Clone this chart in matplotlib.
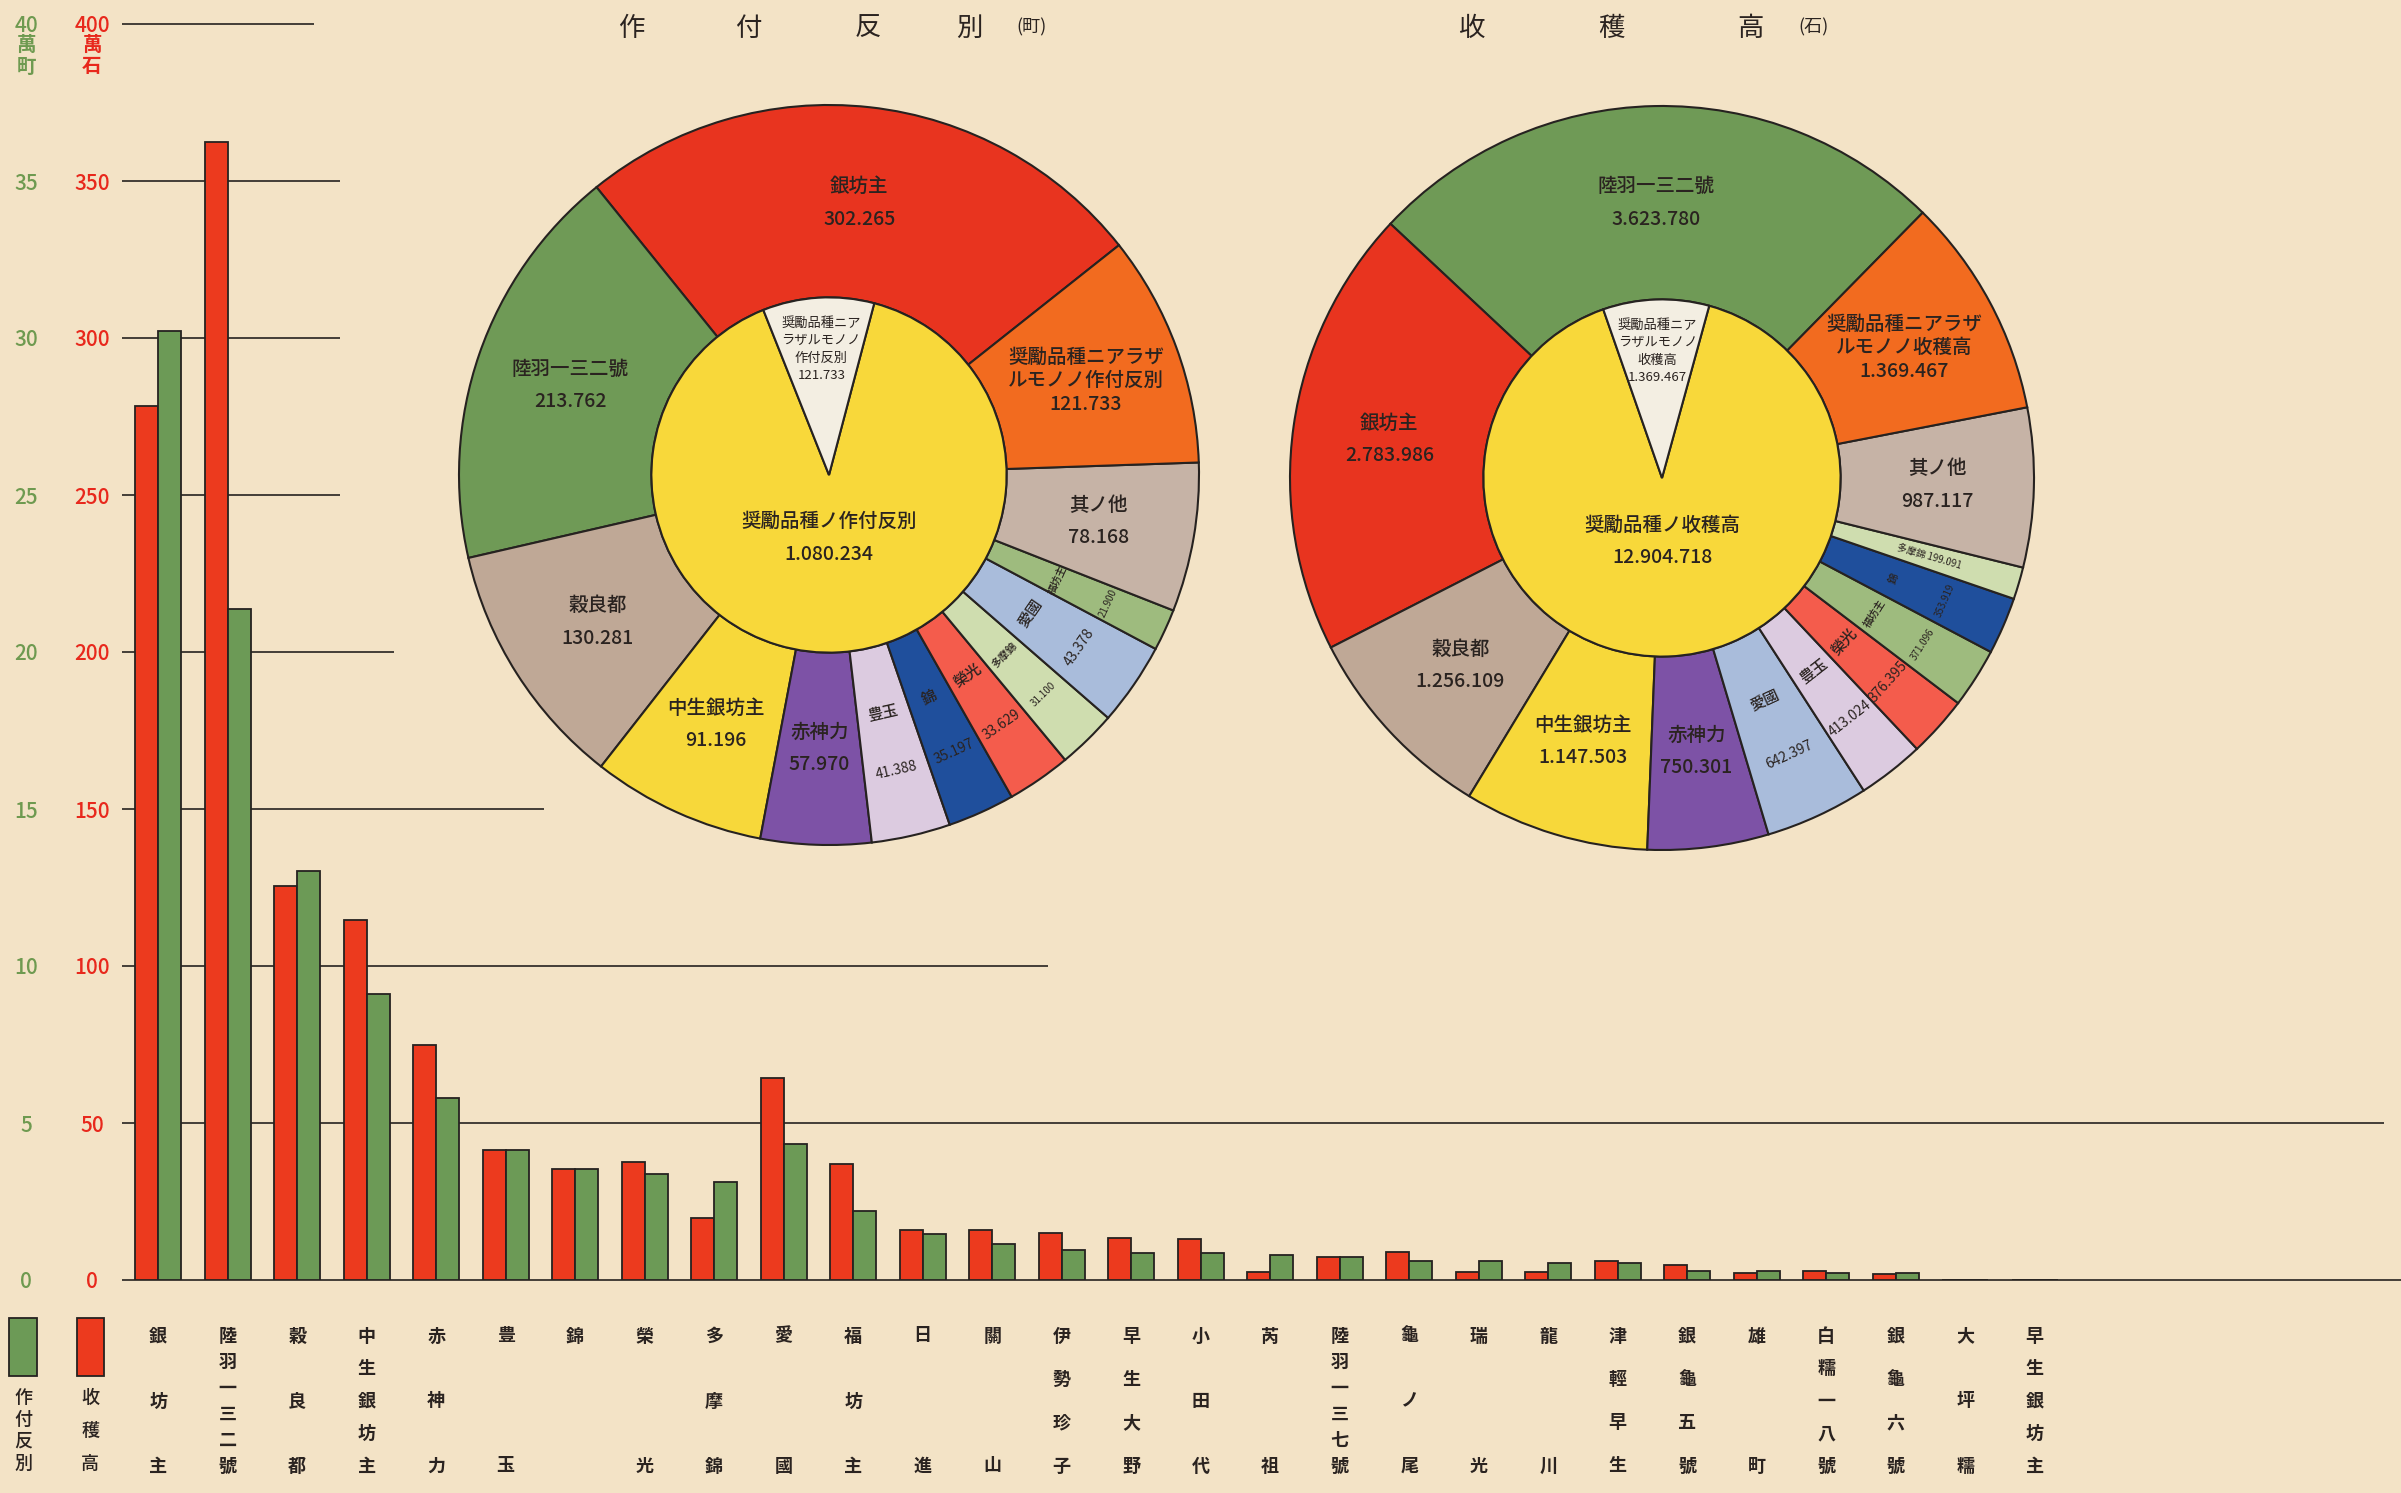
import matplotlib
matplotlib.use('Agg')
import matplotlib.pyplot as plt
import matplotlib.transforms as mtrans
from matplotlib.patches import Rectangle
import numpy as np

plt.rcParams['font.family'] = ['Noto Sans CJK JP', 'DejaVu Sans']

# ---------------- data ----------------
categories = ['銀坊主', '陸羽一三二號', '穀良都', '中生銀坊主', '赤神力', '豊玉', '錦', '榮光',
              '多摩錦', '愛國', '福坊主', '日進', '關山', '伊勢珍子', '早生大野', '小田代', '芮祖',
              '陸羽一三七號', '龜ノ尾', '瑞光', '龍川', '津輕早生', '銀龜五號', '雄町', '白糯一八號',
              '銀龜六號', '大坪糯', '早生銀坊主']
# 收穫高 (萬石)
harvest = [278.4, 362.4, 125.6, 114.8, 75.0, 41.3, 35.4, 37.6, 19.9, 64.2, 37.1,
           16.0, 16.0, 15.0, 13.5, 13.0, 2.5, 7.4, 8.9, 2.7, 2.5, 5.9, 4.8, 2.2, 2.9, 2.0, 0.0, 0.0]
# 作付反別 (萬町)
area = [30.23, 21.38, 13.03, 9.12, 5.80, 4.14, 3.52, 3.36, 3.11, 4.34, 2.19,
        1.45, 1.15, 0.95, 0.85, 0.85, 0.79, 0.72, 0.61, 0.59, 0.53, 0.53, 0.28, 0.28, 0.23, 0.21, 0.0, 0.0]

red_ticks = [0, 50, 100, 150, 200, 250, 300, 350, 400]
green_ticks = [0, 5, 10, 15, 20, 25, 30, 35, 40]

area_pie_labels = ['銀坊主', '陸羽一三二號', '穀良都', '中生銀坊主', '赤神力', '豊玉', '錦', '榮光',
                   '多摩錦', '愛國', '福坊主', '其ノ他', '奨勵品種ニアラザルモノノ作付反別']
area_pie_values = [302265, 213762, 130281, 91196, 57970, 41388, 35197, 33629, 31100, 43378, 21900,
                   78168, 121733]
area_inner_labels = ['奨勵品種ノ作付反別', '奨勵品種ニアラザルモノノ作付反別']
area_inner_values = [1080234, 121733]

yield_pie_labels = ['陸羽一三二號', '銀坊主', '穀良都', '中生銀坊主', '赤神力', '愛國', '豊玉', '榮光',
                    '福坊主', '錦', '多摩錦', '其ノ他', '奨勵品種ニアラザルモノノ收穫高']
yield_pie_values = [3623780, 2783986, 1256109, 1147503, 750301, 642397, 413024, 376395, 371096,
                    353919, 199091, 987117, 1369467]
yield_inner_labels = ['奨勵品種ノ收穫高', '奨勵品種ニアラザルモノノ收穫高']
yield_inner_values = [12904718, 1369467]

# ---------------- style ----------------
W, H = 2401, 1493
PAPER = '#F3E3C6'
TXT = '#2A2320'
EDGE = '#262220'
RED = '#EC3A1E'
GREEN = '#6C9A56'
RED_TXT = '#E8281C'
GREEN_TXT = '#6E9A50'
YELLOW = '#F8D83A'
WHITE = '#F3EEE2'
slice_colors = {
    '銀坊主': '#E8341F', '陸羽一三二號': '#6F9A56', '穀良都': '#BFA896', '中生銀坊主': '#F7D83A',
    '赤神力': '#7D52A6', '豊玉': '#DCCBE0', '錦': '#1F4F9C', '榮光': '#F45C4C', '多摩錦': '#CFDDAF',
    '愛國': '#A9BCDB', '福坊主': '#9EBB7E', '其ノ他': '#C6B3A6',
    '奨勵品種ニアラザルモノノ作付反別': '#F26B1F', '奨勵品種ニアラザルモノノ收穫高': '#F26B1F',
}

fig = plt.figure(figsize=(W / 100, H / 100), dpi=100)
fig.patch.set_facecolor(PAPER)

# ---------------- bar chart ----------------
AX_L = 122 / W
AX_B = (H - 1280) / H
AX_T = (H - 24) / H
ax = fig.add_axes([AX_L, AX_B, 1 - AX_L, AX_T - AX_B])
ax.set_facecolor('none')
x0 = -0.52
x1 = x0 + (W - 122) / 69.5
ax.set_xlim(x0, x1)
ax.set_ylim(0, 400)

xs = np.arange(len(categories))
bw = 0.33
ax.bar(xs - bw / 2, harvest, width=bw, color=RED, edgecolor=EDGE, linewidth=1.3, zorder=3)

ax2 = ax.twinx()
ax2.set_ylim(0, 40)
ax2.bar(xs + bw / 2, area, width=bw, color=GREEN, edgecolor=EDGE, linewidth=1.3, zorder=3)

# horizontal rules (cut where the pies sit)
rule_ends = [x1, x1 - 0.25, 12.8, 5.55, 3.39, 2.62, 2.62, 2.62, 2.24]
ax.hlines(red_ticks, x0, rule_ends, color=EDGE, linewidth=1.2, zorder=2, clip_on=False)

ax.set_xticks([])
ax.set_yticks(red_ticks, labels=[str(t) for t in red_ticks], ha='center', fontweight='medium')
ax.tick_params(axis='y', length=0, pad=21.6, labelsize=15, labelcolor=RED_TXT)
ax2.yaxis.tick_left()
ax2.set_yticks(green_ticks, labels=[str(t) for t in green_ticks], ha='center', fontweight='medium')
ax2.tick_params(axis='y', length=0, pad=69, labelsize=15, labelcolor=GREEN_TXT)
for a in (ax, ax2):
    for s in a.spines.values():
        s.set_visible(False)

# unit labels
fig.text(92 / W, 1 - 45 / H, '萬', color=RED_TXT, fontsize=14, fontweight='bold', ha='center', va='center')
fig.text(92 / W, 1 - 67 / H, '石', color=RED_TXT, fontsize=14, fontweight='bold', ha='center', va='center')
fig.text(26 / W, 1 - 45 / H, '萬', color=GREEN_TXT, fontsize=14, fontweight='bold', ha='center', va='center')
fig.text(26 / W, 1 - 67 / H, '町', color=GREEN_TXT, fontsize=14, fontweight='bold', ha='center', va='center')

# vertical category labels
trans = mtrans.blended_transform_factory(ax.transData, fig.transFigure)
top_y = 1 - 1336 / H
bot_y = 1 - 1466 / H
for i, name in enumerate(categories):
    n = len(name)
    ys = [top_y] if n == 1 else np.linspace(top_y, bot_y, n)
    for ch, yy in zip(name, ys):
        ax.text(i, yy, ch, transform=trans, ha='center', va='center', fontsize=13,
                fontweight='bold', color=TXT, clip_on=False)

# legend
fig.add_artist(Rectangle((9 / W, 1 - 1376 / H), 28 / W, 58 / H, transform=fig.transFigure,
                         facecolor=GREEN, edgecolor=EDGE, linewidth=1.3))
fig.add_artist(Rectangle((77 / W, 1 - 1376 / H), 27 / W, 58 / H, transform=fig.transFigure,
                         facecolor=RED, edgecolor=EDGE, linewidth=1.3))
for ch, yy in zip('作付反別', [1398, 1420, 1442, 1464]):
    fig.text(23 / W, 1 - yy / H, ch, fontsize=13, fontweight='medium', color=TXT, ha='center', va='center')
for ch, yy in zip('收穫高', [1398, 1431, 1464]):
    fig.text(90 / W, 1 - yy / H, ch, fontsize=13, fontweight='medium', color=TXT, ha='center', va='center')

# titles
for ch, xx in zip('作付反別', [631, 748, 868, 969]):
    fig.text(xx / W, 1 - 28 / H, ch, fontsize=19, color=TXT, ha='center', va='center')
fig.text(1032 / W, 1 - 27 / H, '(町)', fontsize=13, color=TXT, ha='center', va='center')
for ch, xx in zip('收穫高', [1471, 1611, 1750]):
    fig.text(xx / W, 1 - 28 / H, ch, fontsize=19, color=TXT, ha='center', va='center')
fig.text(1814 / W, 1 - 27 / H, '(石)', fontsize=13, color=TXT, ha='center', va='center')


# ---------------- pies ----------------
def fmt(v):
    return f'{v:,}'.replace(',', '.')


def make_pie(cx, cy, R, labels, values, start, inner_labels, inner_values, inner_start, white_text):
    L = 1.02
    s = R * L
    axp = fig.add_axes([(cx - s) / W, (H - cy - s) / H, 2 * s / W, 2 * s / H], zorder=5)
    axp.set_facecolor('none')
    wedges, _ = axp.pie(values, colors=[slice_colors[l] for l in labels], startangle=start,
                        counterclock=True, radius=1.0,
                        wedgeprops=dict(width=0.52, edgecolor=EDGE, linewidth=1.5))
    iw, _ = axp.pie(inner_values, colors=[YELLOW, WHITE], startangle=inner_start,
                    counterclock=True, radius=0.48,
                    wedgeprops=dict(edgecolor=EDGE, linewidth=1.5))
    axp.set_xlim(-L, L)
    axp.set_ylim(-L, L)
    axp.set_aspect('equal')
    axp.axis('off')

    for w, name, val in zip(wedges, labels, values):
        span = w.theta2 - w.theta1
        mid_d = (w.theta1 + w.theta2) / 2
        mid = np.deg2rad(mid_d)
        num = fmt(val)
        if name.startswith('奨勵'):
            r = 0.74
            head = name[:8]
            tail = name[8:]
            axp.text(r * np.cos(mid), r * np.sin(mid), f'{head}\n{tail}\n{num}', ha='center',
                     va='center', fontsize=14, fontweight='medium', linespacing=1.3, color=TXT)
        elif span >= 17:
            r = 0.74
            axp.text(r * np.cos(mid), r * np.sin(mid), f'{name}\n{num}', ha='center', va='center',
                     fontsize=14, fontweight='medium', linespacing=1.9, color=TXT)
        elif span >= 6:
            rot = mid_d - 270
            big = span >= 9.45
            fs_name = 11 if big else 7.5
            fs_num = 10 if big else 7
            rn, rv = (0.66, 0.82) if big else (0.68, 0.83)
            axp.text(rn * np.cos(mid), rn * np.sin(mid), name, ha='center', va='center',
                     fontsize=fs_name, fontweight='medium', rotation=rot, rotation_mode='anchor',
                     color=TXT)
            axp.text(rv * np.cos(mid), rv * np.sin(mid), num, ha='center', va='center',
                     fontsize=fs_num, rotation=rot, rotation_mode='anchor', color=TXT)
        else:
            r = 0.75
            rot = mid_d - 360 if mid_d > 270 else mid_d
            axp.text(r * np.cos(mid), r * np.sin(mid), f'{name} {num}', ha='center', va='center',
                     fontsize=7, rotation=rot, rotation_mode='anchor', color=TXT)

    # inner labels
    axp.text(0, -0.17, f'{inner_labels[0]}\n{fmt(inner_values[0])}', ha='center', va='center',
             fontsize=14, fontweight='medium', linespacing=1.9, color=TXT)
    wm = np.deg2rad((iw[1].theta1 + iw[1].theta2) / 2)
    axp.text(0.34 * np.cos(wm), 0.34 * np.sin(wm), f'{white_text}\n{fmt(inner_values[1])}',
             ha='center', va='center', fontsize=9.5, linespacing=1.45, color=TXT)
    return axp


make_pie(829, 475, 370, area_pie_labels, area_pie_values, 38.4,
         area_inner_labels, area_inner_values, 111.7, '奨勵品種ニア\nラザルモノノ\n作付反別')
make_pie(1662, 478, 372, yield_pie_labels, yield_pie_values, 45.5,
         yield_inner_labels, yield_inner_values, 109.2, '奨勵品種ニア\nラザルモノノ\n收穫高')

fig.savefig('out.png', dpi=100, facecolor=PAPER)
